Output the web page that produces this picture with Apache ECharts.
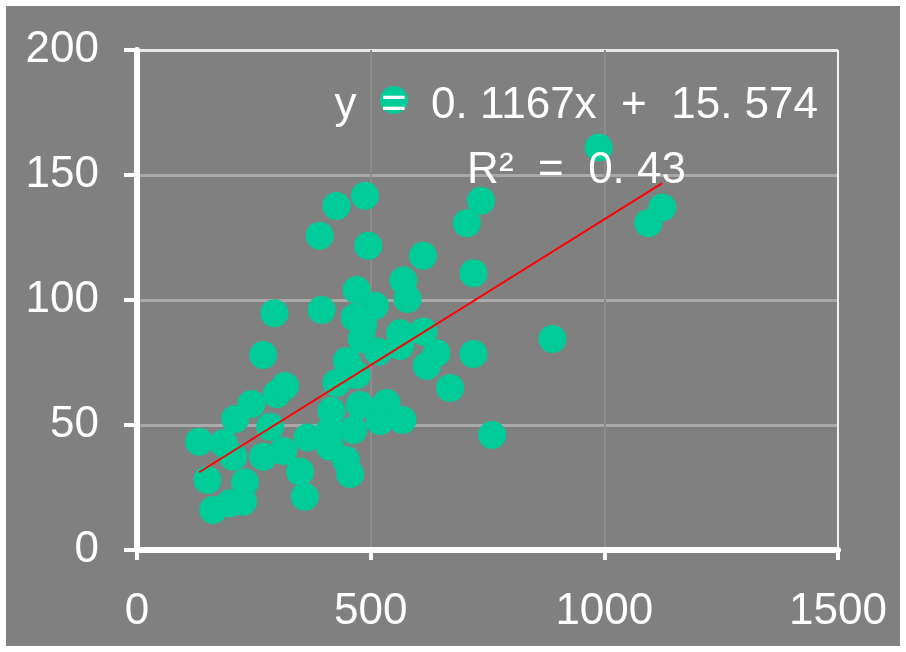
<!DOCTYPE html>
<html>
<head>
<meta charset="utf-8">
<script src="https://cdn.jsdelivr.net/npm/echarts@6/dist/echarts.min.js"></script>
<style>
  html, body { margin: 0; padding: 0; background: #ffffff; }
  #frame { position: absolute; left: 6px; top: 6px; width: 894px; height: 640px; background: #808080; overflow: hidden; }
  #chart { position: absolute; left: -6px; top: -6px; width: 906px; height: 652px; }
</style>
</head>
<body>
<div id="frame"><div id="chart"></div></div>
<script>
// ---- data ----
const xValues = [550, 988, 427, 488, 391, 495, 736, 706, 1124, 1094,
  612, 720, 570, 579, 470, 509, 395, 294, 466, 484,
  481, 563, 613, 889, 641, 720, 516, 563, 620, 670,
  760, 270, 449, 470, 427, 299, 317, 245, 210, 285,
  133, 185, 206, 270, 313, 365, 416, 477, 534, 568,
  520, 463, 413, 413, 447, 456, 349, 359, 151, 231,
  227, 199, 163];
const yValues = [180, 161, 137.6, 141.7, 125.7, 121.7, 139.7, 130.7, 137, 130.7,
  117.7, 110.7, 107.8, 100.4, 104, 97.7, 96, 94.7, 93, 90,
  84.4, 86.7, 87.4, 84.4, 78.8, 78.4, 79.3, 81.6, 73.6, 64.8,
  46, 78, 75.6, 70, 66.8, 62.4, 65.6, 58.4, 52.4, 49.3,
  43.3, 42.7, 37.3, 37.3, 39.6, 45, 55.6, 58, 58.8, 52,
  51.6, 48, 48, 41.3, 36, 30.4, 31.3, 21.3, 28, 27,
  19.3, 18.7, 16];
const xTicks = [0, 500, 1000, 1500];
const yTicks = [0, 50, 100, 150, 200];
const slope = 0.1167;
const intercept = 15.574;
const rSquared = 0.43;
const equationText = 'y  =  0. 1167x  +  15. 574';
const r2Text = 'R²  =  0. 43';

// ---- build ----
const points = xValues.map((x, i) => [x, yValues[i]]);
const xMin = Math.min(...xValues), xMax = Math.max(...xValues);
const trend = [[xMin, slope * xMin + intercept], [xMax, slope * xMax + intercept]];

const chart = echarts.init(document.getElementById('chart'), null, { renderer: 'canvas' });
const labelFont = { color: '#ffffff', fontFamily: 'Liberation Sans, sans-serif', fontSize: 44 };
const vg = '#8c8c8c';
const hg = '#a9a9a9';
chart.setOption({
  backgroundColor: 'transparent',
  animation: false,
  grid: { left: 137, right: 68, top: 50, bottom: 102, containLabel: false },
  xAxis: {
    type: 'value', min: xTicks[0], max: xTicks[xTicks.length - 1], interval: 500,
    axisLine: { show: true, onZero: false, lineStyle: { color: '#ffffff', width: 6 } },
    axisTick: { show: true, inside: false, length: 10, lineStyle: { color: '#ffffff', width: 4 } },
    axisLabel: Object.assign({ margin: 40, formatter: v => String(v) }, labelFont),
    splitLine: { show: true, lineStyle: { color: [vg, vg, vg, '#f2f2f2'], width: 2 } }
  },
  yAxis: {
    type: 'value', min: yTicks[0], max: yTicks[yTicks.length - 1], interval: 50,
    axisLine: { show: true, onZero: false, lineStyle: { color: '#ffffff', width: 6 } },
    axisTick: { show: true, inside: false, length: 13, lineStyle: { color: '#ffffff', width: 4 } },
    axisLabel: Object.assign({ margin: 38, formatter: v => String(v) }, labelFont),
    splitLine: { show: true, lineStyle: { color: [hg, hg, hg, hg, '#e8e8e8'], width: 3 } }
  },
  series: [
    {
      type: 'scatter', data: points, symbol: 'circle', symbolSize: 28,
      itemStyle: { color: '#00CC99', opacity: 1 }, z: 3
    },
    {
      type: 'line', data: trend, showSymbol: false, symbol: 'none',
      lineStyle: { color: '#ff0000', width: 2 }, z: 4, silent: true
    }
  ],
  graphic: [
    { type: 'text', z: 10,
      style: { text: equationText, x: 818, y: 106, align: 'right', verticalAlign: 'middle',
        fill: '#ffffff', font: '44px "Liberation Sans", sans-serif' } },
    { type: 'text', z: 10,
      style: { text: r2Text, x: 686, y: 171, align: 'right', verticalAlign: 'middle',
        fill: '#ffffff', font: '44px "Liberation Sans", sans-serif' } }
  ]
});
</script>
</body>
</html>
